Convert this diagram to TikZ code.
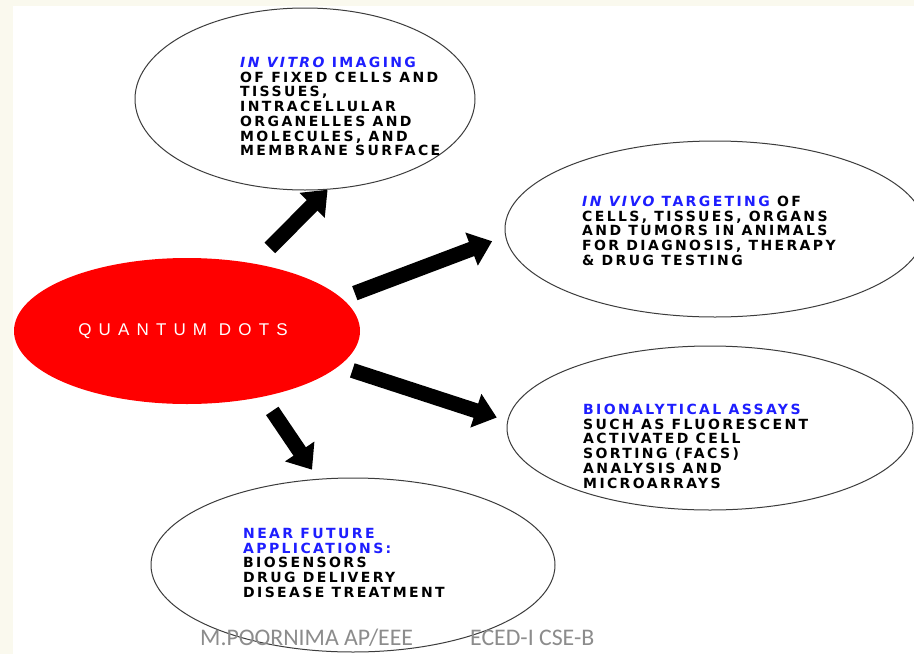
\documentclass[tikz,border=0pt]{standalone}
\usepackage{fontspec}
\usepackage{xcolor}
\usetikzlibrary{arrows.meta,shapes.geometric}
\setmainfont{DejaVu Sans}
\newfontfamily\descfont[LetterSpace=17]{DejaVu Sans}
\newfontfamily\qdfont[LetterSpace=42]{Liberation Sans}
\newfontfamily\footfont{Carlito}
\definecolor{qdred}{RGB}{255,0,0}
\definecolor{qdblue}{RGB}{30,30,255}
\definecolor{rimgray}{RGB}{60,60,60}
\definecolor{footgray}{RGB}{140,140,140}
\definecolor{slidecream}{RGB}{250,249,238}

\begin{document}
\begin{tikzpicture}[
    x=1pt, y=1pt,
    bubble/.style={ellipse, draw=rimgray, fill=white, line width=1pt,
                   inner sep=0pt},
    core/.style={ellipse, fill=qdred, inner sep=0pt},
    blockarr/.style={line width=15pt, black,
                     -{Triangle[width=34pt,length=22pt]}},
    desc/.style={anchor=north west, inner sep=0pt, align=left,
                 font=\descfont\bfseries\fontsize{14}{14.7}\selectfont},
]
\newcommand{\hb}[1]{\textcolor{qdblue}{#1}}

% ── page ─────────────────────────────────────────────────────
\useasboundingbox (0,0) rectangle (914,-654);
\clip (0,0) rectangle (914,-654);
\fill[slidecream] (0,0) rectangle (914,-654);
\fill[white] (13,-6) rectangle (914,-654);

% ════ BUBBLES ════════════════════════════════════════════════
\node[bubble, minimum width=340pt, minimum height=182pt] (vitro) at (305,-99) {};
\node[bubble, minimum width=420pt, minimum height=176pt] (vivo)  at (715,-229) {};
\node[bubble, minimum width=406pt, minimum height=164pt] (bio)   at (710,-428) {};
\node[bubble, minimum width=404pt, minimum height=174pt] (nearf) at (353,-565) {};

% ── centre ───────────────────────────────────────────────────
\node[core, minimum width=346pt, minimum height=146pt] (qd) at (187,-331) {};
\node[text=white, font=\qdfont\fontsize{17}{20}\selectfont] (qdtxt)
    at (183,-331) {QUANTUM DOTS};

% ════ ARROWS ═════════════════════════════════════════════════
\draw[blockarr, shorten <=22pt] (qd.45)  -- (vitro.284);
\draw[blockarr, shorten <=14pt, shorten >=14pt] (qd.12)  -- (vivo.182);
\draw[blockarr, shorten <=14pt, shorten >=11pt] (qd.-13) -- (bio.178);
\draw[blockarr, shorten <=17pt, shorten >=11pt] (qd.-41) -- (nearf.112);

% ════ TEXTS ══════════════════════════════════════════════════
\node[desc] (vitrotxt) at (240,-57)
    {\hb{\itshape IN VITRO} \hb{IMAGING}\\
     OF FIXED CELLS AND\\ TISSUES,\\ INTRACELLULAR\\
     ORGANELLES AND\\ MOLECULES, AND\\ MEMBRANE SURFACE};
\node[desc] (vivotxt) at (582,-196)
    {\hb{\itshape IN VIVO} \hb{TARGETING} OF\\
     CELLS, TISSUES, ORGANS\\ AND TUMORS IN ANIMALS\\
     FOR DIAGNOSIS, THERAPY\\ \& DRUG TESTING};
\node[desc] (biotxt) at (583,-404)
    {\hb{BIONALYTICAL ASSAYS}\\
     SUCH AS FLUORESCENT\\ ACTIVATED CELL\\ SORTING (FACS)\\
     ANALYSIS AND\\ MICROARRAYS};
\node[desc] (neartxt) at (243,-528)
    {\hb{NEAR FUTURE}\\ \hb{APPLICATIONS:}\\
     BIOSENSORS\\ DRUG DELIVERY\\ DISEASE TREATMENT};

% ── footer ───────────────────────────────────────────────────
\node[anchor=base west, inner sep=0pt, text=footgray,
      font=\footfont\fontsize{23.8}{28}\selectfont] (author) at (200,-645)
    {M.POORNIMA AP/EEE};
\node[anchor=base west, inner sep=0pt, text=footgray,
      font=\footfont\fontsize{23.8}{28}\selectfont] (course) at (470,-645)
    {ECED-I CSE-B};

\end{tikzpicture}
\end{document}
